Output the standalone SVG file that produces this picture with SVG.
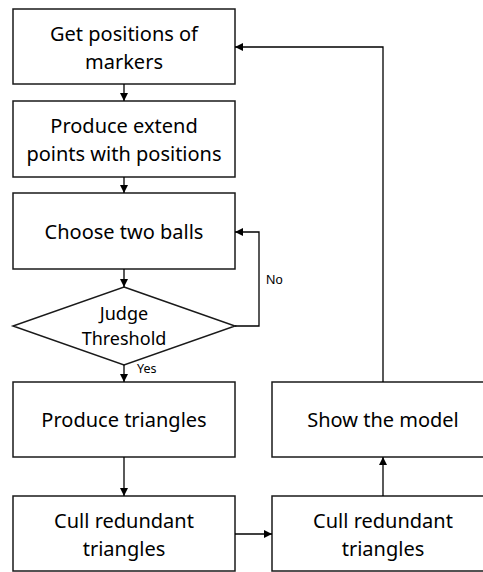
<svg xmlns="http://www.w3.org/2000/svg" width="483" height="572" viewBox="0 0 483 572">
<defs>
<marker id="ah" viewBox="0 0 10 10" refX="10" refY="5" markerWidth="8" markerHeight="8" markerUnits="userSpaceOnUse" orient="auto">
<path d="M0,0 L10,5 L0,10 z" fill="#000"/>
</marker>
</defs>
<style>
.box{fill:#fff;stroke:#1a1a1a;stroke-width:1.5}
.t{font-family:"Noto Sans","Open Sans","DejaVu Sans",sans-serif;font-size:20px;fill:#000;text-anchor:middle}
.d{font-size:18px}
.s{font-family:"Noto Sans","Open Sans",sans-serif;font-size:12.5px;fill:#000}
.c{fill:none;stroke:#000;stroke-width:1.3}
</style>
<rect width="483" height="572" fill="#fff"/>
<g id="n1"><rect class="box" x="13" y="9" width="222" height="75"/><text class="t" x="124" y="41">Get positions of</text><text class="t" x="124" y="69">markers</text></g>
<g id="n2"><rect class="box" x="13" y="101" width="222" height="76"/><text class="t" x="124" y="133">Produce extend</text><text class="t" x="124" y="161">points with positions</text></g>
<g id="n3"><rect class="box" x="13" y="193" width="222" height="76"/><text class="t" x="124" y="239">Choose two balls</text></g>
<g id="n4"><polygon class="box" points="124,287 235,326 124,365 13,326"/><text class="t d" x="124" y="320">Judge</text><text class="t d" x="124" y="345">Threshold</text></g>
<g id="n5"><rect class="box" x="13" y="382" width="222" height="75"/><text class="t" x="124" y="427">Produce triangles</text></g>
<g id="n6"><rect class="box" x="13" y="496" width="222" height="75"/><text class="t" x="124" y="528">Cull redundant</text><text class="t" x="124" y="556">triangles</text></g>
<g id="n7"><rect class="box" x="272" y="496" width="220" height="75"/><text class="t" x="383" y="528">Cull redundant</text><text class="t" x="383" y="556">triangles</text></g>
<g id="n8"><rect class="box" x="272" y="382" width="220" height="75"/><text class="t" x="383" y="427">Show the model</text></g>
<g id="connectors">
<line class="c" x1="124" y1="84" x2="124" y2="101" marker-end="url(#ah)"/>
<line class="c" x1="124" y1="177" x2="124" y2="193" marker-end="url(#ah)"/>
<line class="c" x1="124" y1="269" x2="124" y2="287" marker-end="url(#ah)"/>
<polyline class="c" points="235,326 259,326 259,232 235,232" marker-end="url(#ah)"/>
<text x="266" y="284" font-family="Liberation Sans, Arial, sans-serif" font-size="13">No</text>
<line class="c" x1="124" y1="365" x2="124" y2="382" marker-end="url(#ah)"/>
<text class="s" x="137" y="373">Yes</text>
<line class="c" x1="124" y1="457" x2="124" y2="496" marker-end="url(#ah)"/>
<line class="c" x1="235" y1="534" x2="272" y2="534" marker-end="url(#ah)"/>
<line class="c" x1="383" y1="496" x2="383" y2="457" marker-end="url(#ah)"/>
<polyline class="c" points="383,382 383,47 235,47" marker-end="url(#ah)"/>
</g>
</svg>
